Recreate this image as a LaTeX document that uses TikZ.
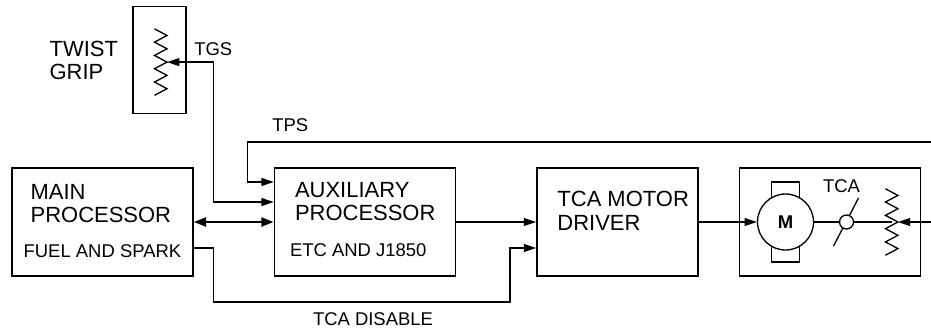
\documentclass[tikz,border=0pt]{standalone}
\usepackage{fontspec}
\setmainfont{Liberation Sans}
\usetikzlibrary{positioning}
\usetikzlibrary{arrows.meta}

\begin{document}
\begin{tikzpicture}[
  font=\fontsize{12.5}{13.1}\selectfont,
  block/.style={draw, line width=0.8pt, minimum width=3.62cm, minimum height=2.16cm, inner sep=0pt},
  title/.style={align=left, inner sep=0pt, anchor=north west},
  small/.style={font=\fontsize{10.5}{12}\selectfont, inner sep=0pt, anchor=base west},
  wire/.style={line width=0.75pt},
  arrow/.style={-{Triangle[length=7pt, width=4.5pt]}, line width=0.75pt},
  dblarrow/.style={{Triangle[length=7pt, width=4.5pt]}-{Triangle[length=7pt, width=4.5pt]}, line width=0.75pt},
  busarrow/.style={{Triangle[length=7pt, width=5pt]}-{Triangle[length=7pt, width=5pt]}, line width=1.5pt},
  motor/.style={draw, circle, fill=white, line width=0.75pt, minimum size=1.12cm, inner sep=0pt, font=\bfseries\fontsize{10.5}{12}\selectfont},
  contact/.style={draw, circle, fill=white, line width=0.75pt, minimum size=0.28cm, inner sep=0pt},
  pot/.pic={\draw[wire] (-0.25,0.665) -- (0,0.532) -- (-0.25,0.399) -- (0,0.266) -- (-0.25,0.133) -- (0,0) -- (-0.25,-0.133) -- (0,-0.266) -- (-0.25,-0.399) -- (0,-0.532) -- (-0.25,-0.665);}
]
\useasboundingbox (0,0) rectangle (18.62,-6.58);

% Blocks
\node[block] (main) at (2.05,-4.44) {};
\node[block, right=1.6cm of main] (aux) {};
\node[block, minimum width=3.22cm, right=1.6cm of aux] (driver) {};
\node[block, right=0.8cm of driver] (tca) {};
\node[block, minimum width=1.06cm, minimum height=2.14cm, above=1.06cm of main, xshift=1.14cm] (grip) {};

% Block texts
\node[title] (mainT) at ([shift={(0.38,-0.34)}]main.north west) {MAIN\\PROCESSOR};
\node[small] (mainS) at ([shift={(0.24,0.38)}]main.south west) {FUEL AND SPARK};
\node[title] (auxT) at ([shift={(0.42,-0.30)}]aux.north west) {AUXILIARY\\PROCESSOR};
\node[small] (auxS) at ([shift={(0.32,0.40)}]aux.south west) {ETC AND J1850};
\node[title] (drvT) at ([shift={(0.42,-0.48)}]driver.north west) {TCA MOTOR\\DRIVER};
\node[title, anchor=east] (gripT) at ([xshift=-0.28cm]grip.west) {TWIST\\GRIP};

% Motor, contact and pots
\coordinate (mc) at ([xshift=0.94cm]tca.west);
\draw[wire] ([shift={(-0.28,-0.8)}]mc) rectangle ([shift={(0.28,0.8)}]mc);
\node[motor] (M) at (mc) {M};
\coordinate (swc) at ([xshift=1.22cm]mc);
\draw[wire] ([shift={(-0.26,-0.48)}]swc) -- ([shift={(0.24,0.48)}]swc);
\node[contact] (sw) at (swc) {};
\node[small, anchor=center] (tcaT) at ([shift={(-0.1,0.72)}]swc) {TCA};
\coordinate (tw) at ([xshift=-0.46cm]tca.east);
\pic at (tw) {pot};
\draw[wire] (M) -- (sw);
\draw[wire] (sw) -- ([xshift=-0.12cm]tw);
\coordinate (gw) at ([shift={(0.15,-0.04)}]grip.center);
\pic at (gw) {pot};

% Connectors
\coordinate (jx) at ([xshift=0.4cm]main.east);
\coordinate (a1) at ([yshift=0.8cm]aux.west);
\coordinate (a2) at ([yshift=0.4cm]aux.west);
\coordinate (tpsin) at (18.62,-2.84);
\coordinate (tcain) at (18.62,-4.44);
\coordinate (d0) at ([yshift=-0.52cm]main.east);
\coordinate (d1) at ([yshift=-0.52cm]driver.west);
\coordinate (low) at ([yshift=-1.6cm]main.east);

\draw[dblarrow] (gw) -| (jx |- a2) -- (a2);
\draw[arrow] (tpsin) -| ([xshift=-0.52cm]a1) -- (a1);
\draw[busarrow] (main) -- (aux);
\draw[arrow] (aux) -- (driver);
\draw[arrow] (d0) -| (jx |- low) -| ([xshift=-0.52cm]d1) -- (d1);
\draw[arrow] (driver) -- (M);
\draw[arrow] (tcain) -- (tw);

% Signal labels
\node[small] (tgs) at ([shift={(0.54,0.14)}]gw) {TGS};
\node[small] (tps) at (5.44,-2.62) {TPS};
\node[small, anchor=base] (dis) at (7.46,-6.5) {TCA DISABLE};

\end{tikzpicture}
\end{document}
